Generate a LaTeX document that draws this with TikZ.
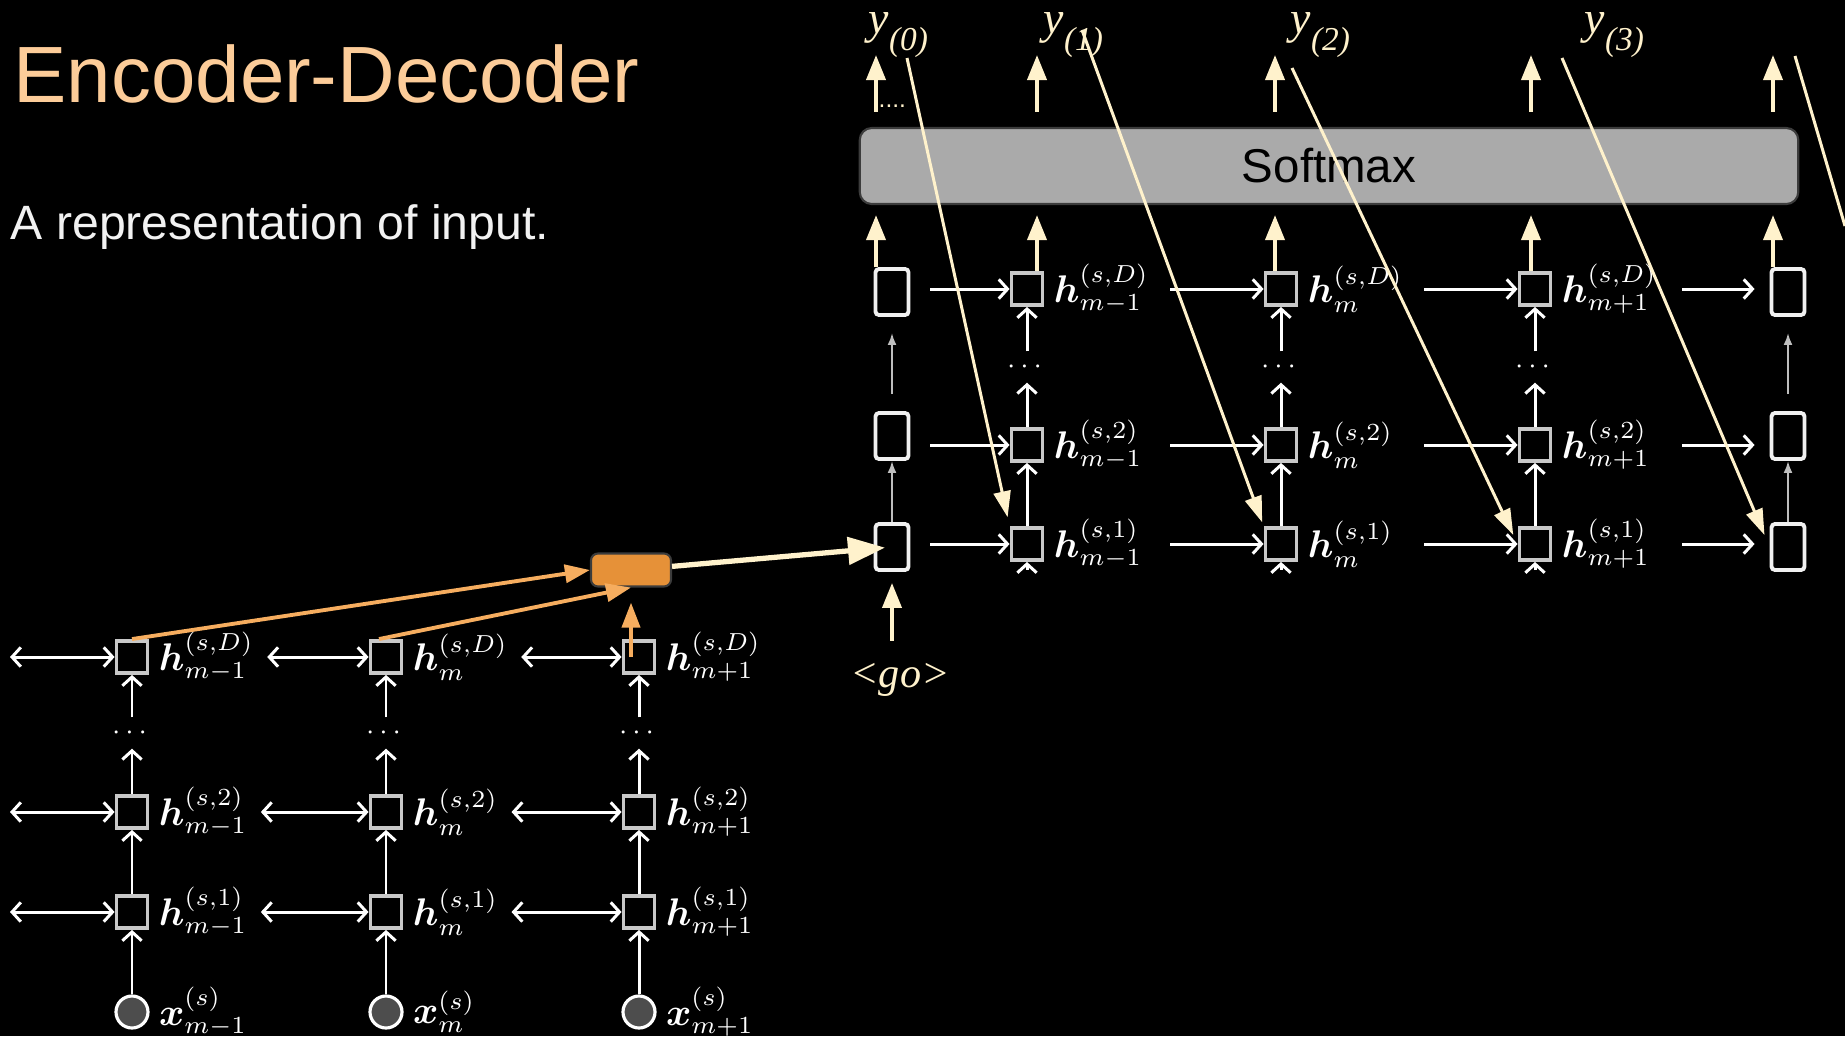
\documentclass[tikz,border=0pt]{standalone}
\usepackage{amsmath,amssymb}
\usepackage[no-math]{fontspec}
\usepackage{tikz}
\usetikzlibrary{shapes.geometric, positioning, arrows.meta, calc}

\newfontfamily\arialfont{Liberation Sans}
\newfontfamily\timesfont{Liberation Serif}

\definecolor{titlepeach}{RGB}{252,204,153}
\definecolor{subwhite}{RGB}{242,242,242}
\definecolor{cream}{RGB}{255,242,204}
\definecolor{ctxfill}{RGB}{230,145,56}
\definecolor{ctxline}{RGB}{246,173,95}
\definecolor{softfill}{RGB}{170,170,170}
\definecolor{softline}{RGB}{60,60,60}
\definecolor{boxgray}{RGB}{200,200,200}
\definecolor{boxwhite}{RGB}{240,240,240}
\definecolor{dotgray}{RGB}{77,77,77}
\definecolor{thingray}{RGB}{190,190,190}

\newcommand{\ylab}[1]{\textit{y}\raisebox{-0.38em}{\fontsize{9.5}{10}\selectfont\textit{(#1)}}}

\begin{document}
\begin{tikzpicture}[
    x=0.01cm, y=-0.01cm,
    >={Straight Barb[length=2.5pt,width=5.5pt]},
    encbox/.style={rectangle, draw=boxgray, fill=black, line width=1.1pt, minimum width=0.31cm, minimum height=0.32cm, inner sep=0pt},
    initbox/.style={rectangle, draw=boxwhite, fill=black, line width=1.1pt, rounded corners=1pt, minimum width=0.33cm, minimum height=0.46cm, inner sep=0pt},
    innode/.style={circle, draw=white, fill=dotgray, line width=0.9pt, minimum size=0.32cm, inner sep=0pt},
    hlab/.style={text=white, inner sep=2.5pt, font=\fontsize{10.5}{12}\selectfont},
    dotsnode/.style={text=white, inner sep=0pt, minimum height=0.3cm, font=\fontsize{8}{9}\selectfont},
    softbox/.style={rectangle, draw=softline, fill=softfill, line width=0.6pt, rounded corners=0.12cm, minimum width=9.38cm, minimum height=0.76cm, font=\arialfont\fontsize{13.5}{16}\selectfont},
    ctxbox/.style={rectangle, draw=softline, fill=ctxfill, line width=0.6pt, rounded corners=2pt, minimum width=0.8cm, minimum height=0.33cm},
    biarr/.style={draw=white, line width=0.85pt, <->},
    fwdarr/.style={draw=white, line width=0.85pt, ->},
    thinarr/.style={draw=thingray, line width=0.6pt, -{Latex[length=0.12cm,width=0.09cm]}},
    upcream/.style={draw=cream, line width=1.1pt, -{Triangle[length=0.25cm,width=0.19cm]}},
    ctxin/.style={draw=ctxline, line width=1.1pt, -{Triangle[length=0.25cm,width=0.18cm]}},
    ctxout/.style={draw=cream, line width=1.5pt, -{Triangle[length=0.37cm,width=0.27cm]}},
    diagarr/.style={draw=cream, line width=0.85pt, -{Triangle[length=0.26cm,width=0.17cm]}},
    diagline/.style={draw=cream, line width=0.85pt},
    outlab/.style={text=cream, anchor=base west, inner sep=0pt, font=\timesfont\fontsize{13}{15}\selectfont},
    gotext/.style={text=cream, font=\timesfont\itshape\fontsize{12}{14}\selectfont},
    titletext/.style={text=titlepeach, anchor=base west, inner sep=0pt, font=\arialfont\fontsize{22.7}{27}\selectfont},
    subtext/.style={text=subwhite, anchor=base west, inner sep=0pt, font=\arialfont\fontsize{13.7}{16}\selectfont}
]

    % Background
    \useasboundingbox (0,0) rectangle (1845,1036);
    \fill[black] (0,0) rectangle (1845,1036);

    % Title
    \node[titletext] (title) at (13,102) {Encoder-Decoder};
    \node[subtext] (subtitle) at (10,239) {A representation of input.};

    % Encoder states
    \node[encbox] (e1D) at (132,657) {};
    \node[encbox] (e12) at (132,812) {};
    \node[encbox] (e11) at (132,912) {};
    \node[innode] (x1) at (132,1012) {};
    \node[encbox] (e2D) at (386,657) {};
    \node[encbox] (e22) at (386,812) {};
    \node[encbox] (e21) at (386,912) {};
    \node[innode] (x2) at (386,1012) {};
    \node[encbox] (e3D) at (639,657) {};
    \node[encbox] (e32) at (639,812) {};
    \node[encbox] (e31) at (639,912) {};
    \node[innode] (x3) at (639,1012) {};
    \node[dotsnode] (ed1) at (132,733) {$\cdots$};
    \node[dotsnode] (ed2) at (386,733) {$\cdots$};
    \node[dotsnode] (ed3) at (639,733) {$\cdots$};

    % Encoder labels
    \node[hlab, right=0pt of e1D] (l1D) {$\boldsymbol{h}^{(s,D)}_{m-1}$};
    \node[hlab, right=0pt of e12] (l12) {$\boldsymbol{h}^{(s,2)}_{m-1}$};
    \node[hlab, right=0pt of e11] (l11) {$\boldsymbol{h}^{(s,1)}_{m-1}$};
    \node[hlab, right=0pt of x1] (lx1) {$\boldsymbol{x}^{(s)}_{m-1}$};
    \node[hlab, right=0pt of e2D] (l2D) {$\boldsymbol{h}^{(s,D)}_{m}$};
    \node[hlab, right=0pt of e22] (l22) {$\boldsymbol{h}^{(s,2)}_{m}$};
    \node[hlab, right=0pt of e21] (l21) {$\boldsymbol{h}^{(s,1)}_{m}$};
    \node[hlab, right=0pt of x2] (lx2) {$\boldsymbol{x}^{(s)}_{m}$};
    \node[hlab, right=0pt of e3D] (l3D) {$\boldsymbol{h}^{(s,D)}_{m+1}$};
    \node[hlab, right=0pt of e32] (l32) {$\boldsymbol{h}^{(s,2)}_{m+1}$};
    \node[hlab, right=0pt of e31] (l31) {$\boldsymbol{h}^{(s,1)}_{m+1}$};
    \node[hlab, right=0pt of x3] (lx3) {$\boldsymbol{x}^{(s)}_{m+1}$};

    % Context
    \node[ctxbox] (ctx) at (631,570) {};

    % Decoder states
    \node[initbox] (s0D) at (892,292) {};
    \node[initbox] (s02) at (892,436) {};
    \node[initbox] (s01) at (892,547) {};
    \node[encbox] (d1D) at (1027,289) {};
    \node[encbox] (d12) at (1027,445) {};
    \node[encbox] (d11) at (1027,544) {};
    \node[encbox] (d2D) at (1281,289) {};
    \node[encbox] (d22) at (1281,445) {};
    \node[encbox] (d21) at (1281,544) {};
    \node[encbox] (d3D) at (1535,289) {};
    \node[encbox] (d32) at (1535,445) {};
    \node[encbox] (d31) at (1535,544) {};
    \node[initbox] (s4D) at (1788,292) {};
    \node[initbox] (s42) at (1788,436) {};
    \node[initbox] (s41) at (1788,547) {};
    \node[dotsnode] (dd1) at (1027,367) {$\cdots$};
    \node[dotsnode] (dd2) at (1281,367) {$\cdots$};
    \node[dotsnode] (dd3) at (1535,367) {$\cdots$};

    % Decoder labels
    \node[hlab, right=0pt of d1D] (k1D) {$\boldsymbol{h}^{(s,D)}_{m-1}$};
    \node[hlab, right=0pt of d12] (k12) {$\boldsymbol{h}^{(s,2)}_{m-1}$};
    \node[hlab, right=0pt of d11] (k11) {$\boldsymbol{h}^{(s,1)}_{m-1}$};
    \node[hlab, right=0pt of d2D] (k2D) {$\boldsymbol{h}^{(s,D)}_{m}$};
    \node[hlab, right=0pt of d22] (k22) {$\boldsymbol{h}^{(s,2)}_{m}$};
    \node[hlab, right=0pt of d21] (k21) {$\boldsymbol{h}^{(s,1)}_{m}$};
    \node[hlab, right=0pt of d3D] (k3D) {$\boldsymbol{h}^{(s,D)}_{m+1}$};
    \node[hlab, right=0pt of d32] (k32) {$\boldsymbol{h}^{(s,2)}_{m+1}$};
    \node[hlab, right=0pt of d31] (k31) {$\boldsymbol{h}^{(s,1)}_{m+1}$};

    % Softmax and outputs
    \node[softbox] (soft) at (1329,166) {Softmax};
    \node[outlab] (y0) at (868,33) {\ylab{0}};
    \node[outlab] (y1) at (1043,33) {\ylab{1}};
    \node[outlab] (y2) at (1290,33) {\ylab{2}};
    \node[outlab] (y3) at (1584,33) {\ylab{3}};
    \node[text=cream, anchor=west, inner sep=0pt, font=\arialfont\fontsize{7}{8}\selectfont] (odots) at (878,106) {....};
    \node[gotext] (go) at (900,680) {<go>};

    \coordinate (o0) at (876,55);
    \coordinate (o1) at (1037,55);
    \coordinate (o2) at (1275,55);
    \coordinate (o3) at (1531,55);
    \coordinate (o4) at (1773,55);
    \coordinate (w1D) at (10,657);
    \coordinate (w12) at (10,812);
    \coordinate (w11) at (10,912);
    \coordinate (q0) at (907,58);
    \coordinate (q1) at (1082,30);
    \coordinate (q2) at (1292,68);
    \coordinate (q3) at (1562,58);
    \coordinate (q4) at (1795,56);
    \coordinate (q5) at (1845,226);

    % Encoder connectors
    \draw[biarr] (w1D) -- (e1D);
    \draw[biarr] (w12) -- (e12);
    \draw[biarr] (w11) -- (e11);
    \draw[biarr, shorten <=0.04cm] (l1D) -- (e2D);
    \draw[biarr, shorten <=0.04cm] (l12) -- (e22);
    \draw[biarr, shorten <=0.04cm] (l11) -- (e21);
    \draw[biarr, shorten <=0.04cm] (l2D) -- (e3D);
    \draw[biarr, shorten <=0.04cm] (l22) -- (e32);
    \draw[biarr, shorten <=0.04cm] (l21) -- (e31);

    \draw[fwdarr] (x1) -- (e11);
    \draw[fwdarr] (e11) -- (e12);
    \draw[fwdarr] (e12) -- (ed1);
    \draw[fwdarr] (ed1) -- (e1D);
    \draw[fwdarr] (x2) -- (e21);
    \draw[fwdarr] (e21) -- (e22);
    \draw[fwdarr] (e22) -- (ed2);
    \draw[fwdarr] (ed2) -- (e2D);
    \draw[fwdarr] (x3) -- (e31);
    \draw[fwdarr] (e31) -- (e32);
    \draw[fwdarr] (e32) -- (ed3);
    \draw[fwdarr] (ed3) -- (e3D);

    % Into the context
    \draw[ctxin] (e1D.north) -- (ctx.west);
    \draw[ctxin] ([xshift=-0.07cm]e2D.north) -- (ctx.south);
    \draw[ctxin, shorten >=0.15cm] (e3D.center -| ctx.south) -- (ctx.south);

    % Decoder connectors
    \draw[fwdarr, shorten <=0.2cm] (s0D.east |- d1D) -- (d1D);
    \draw[fwdarr, shorten <=0.2cm] (s02.east |- d12) -- (d12);
    \draw[fwdarr, shorten <=0.2cm] (s01.east |- d11) -- (d11);
    \draw[fwdarr] ([xshift=1.43cm]d1D.center) -- (d2D);
    \draw[fwdarr] ([xshift=1.43cm]d12.center) -- (d22);
    \draw[fwdarr] ([xshift=1.43cm]d11.center) -- (d21);
    \draw[fwdarr] ([xshift=1.43cm]d2D.center) -- (d3D);
    \draw[fwdarr] ([xshift=1.43cm]d22.center) -- (d32);
    \draw[fwdarr] ([xshift=1.43cm]d21.center) -- (d31);
    \draw[fwdarr, shorten >=0.15cm] ([xshift=1.47cm]d3D.center) -- (d3D -| s4D.west);
    \draw[fwdarr, shorten >=0.15cm] ([xshift=1.47cm]d32.center) -- (d32 -| s42.west);
    \draw[fwdarr, shorten >=0.15cm] ([xshift=1.47cm]d31.center) -- (d31 -| s41.west);

    \draw[fwdarr] (d11) -- (d12);
    \draw[fwdarr] (d12) -- (dd1);
    \draw[fwdarr] (dd1) -- (d1D);
    \draw[fwdarr] ([yshift=-0.08cm]d11.south) -- (d11.south);
    \draw[fwdarr] (d21) -- (d22);
    \draw[fwdarr] (d22) -- (dd2);
    \draw[fwdarr] (dd2) -- (d2D);
    \draw[fwdarr] ([yshift=-0.08cm]d21.south) -- (d21.south);
    \draw[fwdarr] (d31) -- (d32);
    \draw[fwdarr] (d32) -- (dd3);
    \draw[fwdarr] (dd3) -- (d3D);
    \draw[fwdarr] ([yshift=-0.08cm]d31.south) -- (d31.south);

    \draw[thinarr] (s01) -- (s02);
    \draw[thinarr, shorten <=0.17cm, shorten >=0.16cm] (s02) -- (s0D);
    \draw[thinarr] (s41) -- (s42);
    \draw[thinarr, shorten <=0.17cm, shorten >=0.16cm] (s42) -- (s4D);

    % Context into decoder, go symbol
    \draw[ctxout, shorten >=0.07cm] (ctx) -- (s01.center);
    \draw[upcream, shorten <=0.1cm, shorten >=0.11cm] (go.north -| s01) -- (s01.south);

    % Softmax in and out
    \draw[upcream, shorten >=0.1cm] (s0D.north -| o0) -- (soft.south -| o0);
    \draw[upcream, shorten >=0.1cm] (d1D.north -| o1) -- (soft.south -| o1);
    \draw[upcream, shorten >=0.1cm] (d2D.north -| o2) -- (soft.south -| o2);
    \draw[upcream, shorten >=0.1cm] (d3D.north -| o3) -- (soft.south -| o3);
    \draw[upcream, shorten >=0.1cm] (s4D.north -| o4) -- (soft.south -| o4);
    \draw[upcream, shorten <=0.15cm] (soft.north -| o0) -- (o0);
    \draw[upcream, shorten <=0.15cm] (soft.north -| o1) -- (o1);
    \draw[upcream, shorten <=0.15cm] (soft.north -| o2) -- (o2);
    \draw[upcream, shorten <=0.15cm] (soft.north -| o3) -- (o3);
    \draw[upcream, shorten <=0.15cm] (soft.north -| o4) -- (o4);

    % Feedback of outputs
    \draw[diagarr, shorten >=0.09cm] (q0) -- (d11.north west);
    \draw[diagarr, shorten >=0.04cm] (q1) -- (d21.north west);
    \draw[diagarr, shorten >=0.1cm] (q2) -- (d31.west);
    \draw[diagarr, shorten >=0.13cm] (q3) -- (s41.west);
    \draw[diagline] (q4) -- (q5);

\end{tikzpicture}
\end{document}
